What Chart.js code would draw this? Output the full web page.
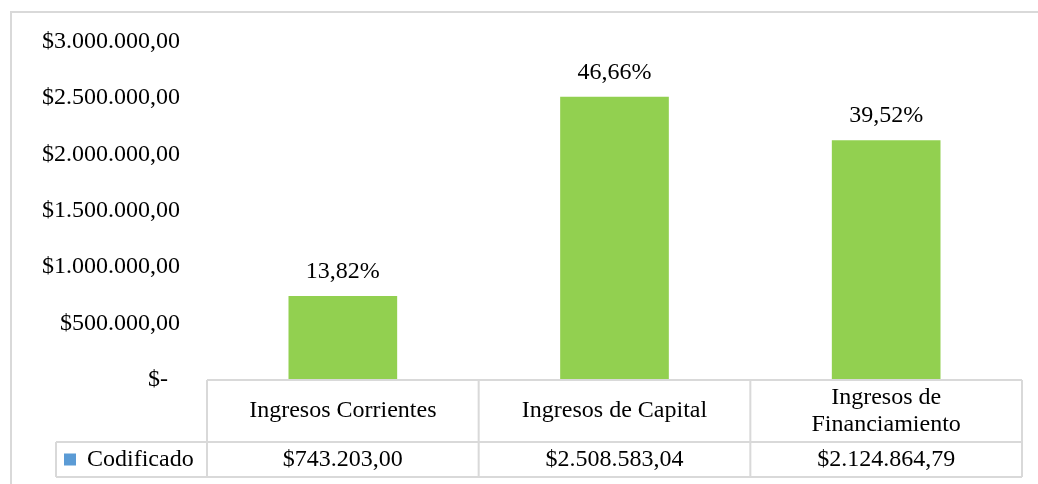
<!DOCTYPE html>
<html lang="es">
<head>
    <title>Ingresos Codificados</title>
    <meta charset="utf-8">
    <script src="https://cdn.jsdelivr.net/npm/chart.js@4.4.1/dist/chart.umd.min.js"></script>
    <style>
        html, body { margin: 0; padding: 0; background: #fff; }
        #wrap { width: 1038px; height: 484px; position: relative; }
    </style>
</head>
<body>

<div id="wrap">
    <canvas id="bar-chart"></canvas>
</div>

<script>
var categories = [['Ingresos Corrientes'], ['Ingresos de Capital'], ['Ingresos de', 'Financiamiento']];
var values = [743203.00, 2508583.04, 2124864.79];
var valueLabels = ['$743.203,00', '$2.508.583,04', '$2.124.864,79'];
var percentLabels = ['13,82%', '46,66%', '39,52%'];
var tickLabels = ['$-  ', '$500.000,00', '$1.000.000,00', '$1.500.000,00', '$2.000.000,00', '$2.500.000,00', '$3.000.000,00'];
var seriesName = 'Codificado';

var FONT = '24px "Liberation Serif", "Times New Roman", serif';
var LINE = '#d9d9d9';

// outer frame like the excel chart border
var framePlugin = {
  id: 'frame',
  beforeDraw: function(chart) {
    var ctx = chart.ctx;
    ctx.save();
    ctx.fillStyle = '#fff';
    ctx.fillRect(0, 0, chart.width, chart.height);
    ctx.strokeStyle = LINE;
    ctx.lineWidth = 2;
    ctx.strokeRect(11, 12, chart.width + 10, chart.height + 10);
    ctx.restore();
  }
};

// percentages above the bars
var percentPlugin = {
  id: 'percents',
  afterDatasetsDraw: function(chart) {
    var ctx = chart.ctx;
    var meta = chart.getDatasetMeta(0);
    ctx.save();
    ctx.font = FONT;
    ctx.fillStyle = '#000';
    ctx.textAlign = 'center';
    ctx.textBaseline = 'middle';
    meta.data.forEach(function(bar, i) {
      ctx.fillText(percentLabels[i], bar.x, bar.y - 24);
    });
    ctx.restore();
  }
};

// data table under the plot
var tablePlugin = {
  id: 'datatable',
  afterDraw: function(chart) {
    var ctx = chart.ctx;
    var area = chart.chartArea;
    var xs = chart.scales.x;
    var n = chart.data.labels.length;
    var colW = (area.right - area.left) / n;
    var top = area.bottom;
    var mid = top + 62;
    var bot = mid + 35;
    var legendLeft = 56;

    ctx.save();
    ctx.strokeStyle = LINE;
    ctx.lineWidth = 2;
    ctx.beginPath();
    ctx.moveTo(area.left, top); ctx.lineTo(area.right, top);
    ctx.moveTo(legendLeft, mid); ctx.lineTo(area.right, mid);
    ctx.moveTo(legendLeft, bot); ctx.lineTo(area.right, bot);
    for (var i = 0; i <= n; i++) {
      var bx = xs.getPixelForValue(0) - colW / 2 + i * colW;
      ctx.moveTo(bx, top); ctx.lineTo(bx, bot);
    }
    ctx.moveTo(legendLeft, mid); ctx.lineTo(legendLeft, bot);
    ctx.stroke();

    ctx.font = FONT;
    ctx.fillStyle = '#000';
    ctx.textAlign = 'center';
    ctx.textBaseline = 'middle';
    var lh = 27;
    chart.data.labels.forEach(function(lbl, i) {
      var cx = xs.getPixelForValue(i);
      var cy = (top + mid) / 2 - (lbl.length - 1) * lh / 2;
      lbl.forEach(function(line, j) {
        ctx.fillText(line, cx, cy + j * lh);
      });
      ctx.fillText(valueLabels[i], cx, (mid + bot) / 2);
    });

    ctx.fillStyle = '#5b9bd5';
    ctx.fillRect(legendLeft + 8, (mid + bot) / 2 - 6, 12, 12);
    ctx.fillStyle = '#000';
    ctx.textAlign = 'left';
    ctx.fillText(seriesName, legendLeft + 31, (mid + bot) / 2);
    ctx.restore();
  }
};

new Chart(document.getElementById('bar-chart'), {
  type: 'bar',
  data: {
    labels: categories,
    datasets: [{
      label: seriesName,
      data: values,
      backgroundColor: '#92d050',
      barPercentage: 0.4,
      categoryPercentage: 1.0
    }]
  },
  options: {
    responsive: true,
    maintainAspectRatio: false,
    animation: false,
    layout: {
      padding: { left: 0, right: 16, top: 41, bottom: 104 }
    },
    plugins: {
      legend: { display: false },
      tooltip: { enabled: false }
    },
    scales: {
      x: {
        display: false
      },
      y: {
        min: 0,
        max: 3000000,
        afterFit: function(scale) { scale.width = 207; },
        border: { display: false },
        grid: { display: false, drawTicks: false },
        ticks: {
          stepSize: 500000,
          padding: 27,
          color: '#000',
          font: { family: '"Liberation Serif", "Times New Roman", serif', size: 24 },
          callback: function(value, index) { return tickLabels[index]; }
        }
      }
    }
  },
  plugins: [framePlugin, percentPlugin, tablePlugin]
});
</script>
</body>
</html>
